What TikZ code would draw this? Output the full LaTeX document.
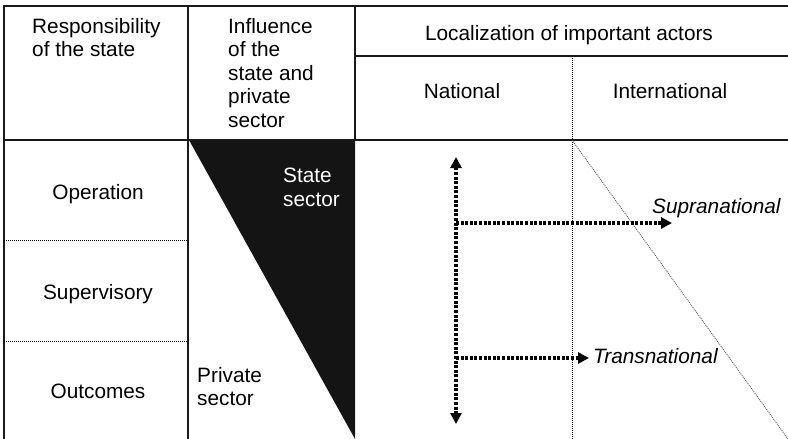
\documentclass[tikz,border=0pt]{standalone}
\usepackage{fontspec}
\setmainfont{Liberation Sans}
\usetikzlibrary{arrows.meta}
\begin{document}
\begin{tikzpicture}[x=1pt,y=-1pt,
  txt/.style={font=\fontsize{20.8}{23.4}\selectfont, inner sep=0pt},
  itxt/.style={font=\fontsize{20.8}{23.4}\selectfont\itshape, inner sep=0pt},
  frame/.style={line width=1.6pt, color=black!90},
  finedots/.style={line width=0.8pt, dash pattern=on 1pt off 1pt},
  bigdots/.style={line width=3.4pt, dash pattern=on 3pt off 1.6pt},
  tip/.style={-{Triangle[length=11pt,width=11pt]}},
  dtip/.style={{Triangle[length=11pt,width=11pt]}-{Triangle[length=11pt,width=11pt]}}
]
\useasboundingbox (0,0) rectangle (788,439);
% black triangle (state sector share)
\fill[black!92] (189,140) -- (355,140) -- (355,439) -- cycle;
% frame
\draw[frame] (4,439) -- (4,6) -- (788,6);
\draw[frame] (188,6) -- (188,439);
\draw[frame] (355,6) -- (355,140);
\draw[frame] (355,56) -- (788,56);
\draw[frame] (4,140) -- (788,140);
% dotted separators
\draw[finedots] (572,56) -- (572,439);
\draw[finedots] (4,240) -- (188,240);
\draw[finedots] (4,341) -- (188,341);
\draw[finedots, black!70] (572,140) -- (788,439);
% texts
\node[txt, anchor=north west, align=left] (resp) at (32,18) {Responsibility\\of the state};
\node[txt, anchor=north west, align=left] (infl) at (228,18.3) {Influence\\of the\\state and\\private\\sector};
\node[txt, anchor=base] (loc) at (569,40) {Localization of important actors};
\node[txt, anchor=base] (nat) at (462,98) {National};
\node[txt, anchor=base] (intl) at (670,98) {International};
\node[txt, anchor=base] (op) at (98,199) {Operation};
\node[txt, anchor=base] (sup) at (98,299) {Supervisory};
\node[txt, anchor=base] (out) at (98,398) {Outcomes};
\node[txt, anchor=north west, align=left, text=white] (state) at (283,168) {State\\sector};
\node[txt, anchor=north west, align=left] (priv) at (197,367) {Private\\sector};
\node[itxt, anchor=base west] (supra) at (652,213) {Supranational};
\node[itxt, anchor=base west] (trans) at (593,363) {Transnational};
% arrows
\coordinate (vtop) at (456,157);
\coordinate (vbot) at (456,424);
\coordinate (j1) at (456,223);
\coordinate (j2) at (456,358);
\coordinate (e1) at (672,223);
\coordinate (e2) at (589,358);
\draw[bigdots, dtip] (vtop) -- (vbot);
\draw[bigdots, tip] (j1) -- (e1);
\draw[bigdots, tip] (j2) -- (e2);
\end{tikzpicture}
\end{document}
